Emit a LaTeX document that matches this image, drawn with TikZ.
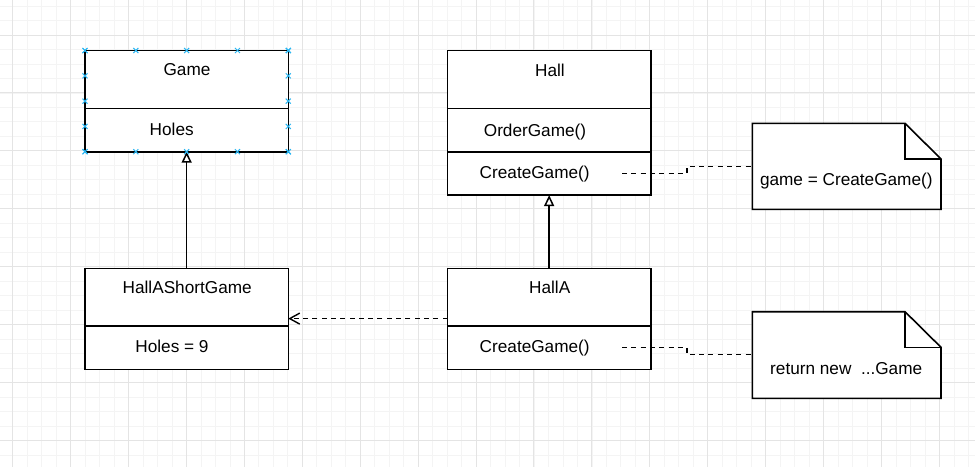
\documentclass[tikz,border=0pt]{standalone}
\usepackage{fontspec}
\setmainfont{Liberation Sans}
\usetikzlibrary{arrows.meta}
\definecolor{gridminor}{RGB}{244,244,244}
\definecolor{gridmajor}{RGB}{228,228,228}
\definecolor{handleblue}{RGB}{41,182,242}
\begin{document}
\begin{tikzpicture}[x=1pt,y=-1pt,
  comp/.style={draw=black, fill=white, line width=1.6pt, inner sep=0pt, outer sep=0pt, anchor=north west, minimum width=203.3pt, minimum height=#1},
  lbl/.style={font=\fontsize{17.2}{20}\selectfont, inner sep=0pt, anchor=base, text=black},
  inh/.style={line width=1.5pt, -{Triangle[fill=white, length=11pt, width=10pt]}},
  dep/.style={line width=1.4pt, dash pattern=on 5pt off 4.3pt, -{Straight Barb[length=10pt, width=11pt]}},
  notelink/.style={line width=1.4pt, dash pattern=on 5pt off 4.3pt},
  notebox/.style={inner sep=0pt, outer sep=0pt, anchor=north west, minimum width=188.7pt, minimum height=#1},
  noteline/.style={line width=1.6pt},
  gridminorline/.style={draw=gridminor, line width=0.8pt},
  gridmajorline/.style={draw=gridmajor, line width=1pt},
  handle/.pic={\draw[handleblue, line width=1pt] (-2.5,-2.5) -- (2.5,2.5) (-2.5,2.5) -- (2.5,-2.5);}
]
\fill[white] (0,0) rectangle (975,467);
\useasboundingbox (0,0) rectangle (975,467);
% grid
\foreach \k in {0,...,68} \draw[gridminorline] ({-1.78+14.48*\k},0) -- ++(0,467);
\foreach \k in {0,...,32} \draw[gridminorline] (0,{6.04+14.48*\k}) -- ++(975,0);
\foreach \k in {0,...,17} \draw[gridmajorline] ({12.7+57.92*\k},0) -- ++(0,467);
\foreach \k in {0,...,8} \draw[gridmajorline] (0,{35+57.92*\k}) -- ++(975,0);

% class compartments
\node[comp=57.8pt] (gameT) at (85,50.5) {};
\node[comp=43.4pt] (gameB) at (gameT.south west) {};
\node[comp=57.8pt] (hallT) at (447.5,50.5) {};
\node[comp=43.4pt] (hallO) at (hallT.south west) {};
\node[comp=43.4pt] (hallC) at (hallO.south west) {};
\node[comp=57.8pt] (hasgT) at (85,268.3) {};
\node[comp=43.4pt] (hasgB) at (hasgT.south west) {};
\node[comp=57.8pt] (hallaT) at (447.5,268.3) {};
\node[comp=43.4pt] (hallaB) at (hallaT.south west) {};

% labels
\node[lbl] (tGame) at (187,75.7) {Game};
\node[lbl] (tHoles) at (171.7,135.7) {Holes};
\node[lbl] (tHall) at (550,76.2) {Hall};
\node[lbl] (tOrder) at (535,136) {OrderGame()};
\node[lbl] (tCreate1) at (534.7,178.4) {CreateGame()};
\node[lbl] (tHasg) at (187.2,293.4) {HallAShortGame};
\node[lbl] (tHoles9) at (172,352.3) {Holes = 9};
\node[lbl] (tHallA) at (549.7,293.8) {HallA};
\node[lbl] (tCreate2) at (534.7,352.6) {CreateGame()};

% notes
\node[notebox=86pt] (note1) at (752.3,123.3) {};
\draw[noteline, fill=white] (note1.south west) -- (note1.north west) -- ([xshift=-36pt]note1.north east) -- ([yshift=-35.7pt]note1.north east) -- (note1.south east) -- cycle;
\draw[noteline] ([xshift=-36pt]note1.north east) -- ([xshift=-36pt,yshift=-35.7pt]note1.north east) -- ([yshift=-35.7pt]note1.north east);
\node[lbl] (tNote1) at (846.3,185) {game = CreateGame()};

\node[notebox=86.6pt] (note2) at (752.3,311.7) {};
\draw[noteline, fill=white] (note2.south west) -- (note2.north west) -- ([xshift=-36pt]note2.north east) -- ([yshift=-35.6pt]note2.north east) -- (note2.south east) -- cycle;
\draw[noteline] ([xshift=-36pt]note2.north east) -- ([xshift=-36pt,yshift=-35.6pt]note2.north east) -- ([yshift=-35.6pt]note2.north east);
\node[lbl] (tNote2) at (846.2,374) {return new\ \ ...Game};

% connectors
\draw[inh] (hasgT.north) -- (gameB.south);
\draw[inh] (hallaT.north) -- (hallC.south);
\coordinate (depy) at (0,318.6);
\draw[dep] (hallaT.west |- depy) -- (hasgT.east |- depy);
\coordinate (n1a) at (622,173.3);
\coordinate (n1b) at (0,166.7);
\draw[notelink] (n1a) -- ++(65,0) -- ++(0,-6.6) -- (note1.west |- n1b);
\coordinate (n2a) at (622,347.7);
\coordinate (n2b) at (0,354.3);
\draw[notelink] (n2a) -- ++(65,0) -- ++(0,6.6) -- (note2.west |- n2b);

% selection handles on Game
\foreach \k in {0,...,4} {
  \pic at ({85+50.825*\k},50.5) {handle};
  \pic at ({85+50.825*\k},151.7) {handle};
  \pic at (85,{50.5+25.3*\k}) {handle};
  \pic at (288.3,{50.5+25.3*\k}) {handle};
}
\end{tikzpicture}
\end{document}
